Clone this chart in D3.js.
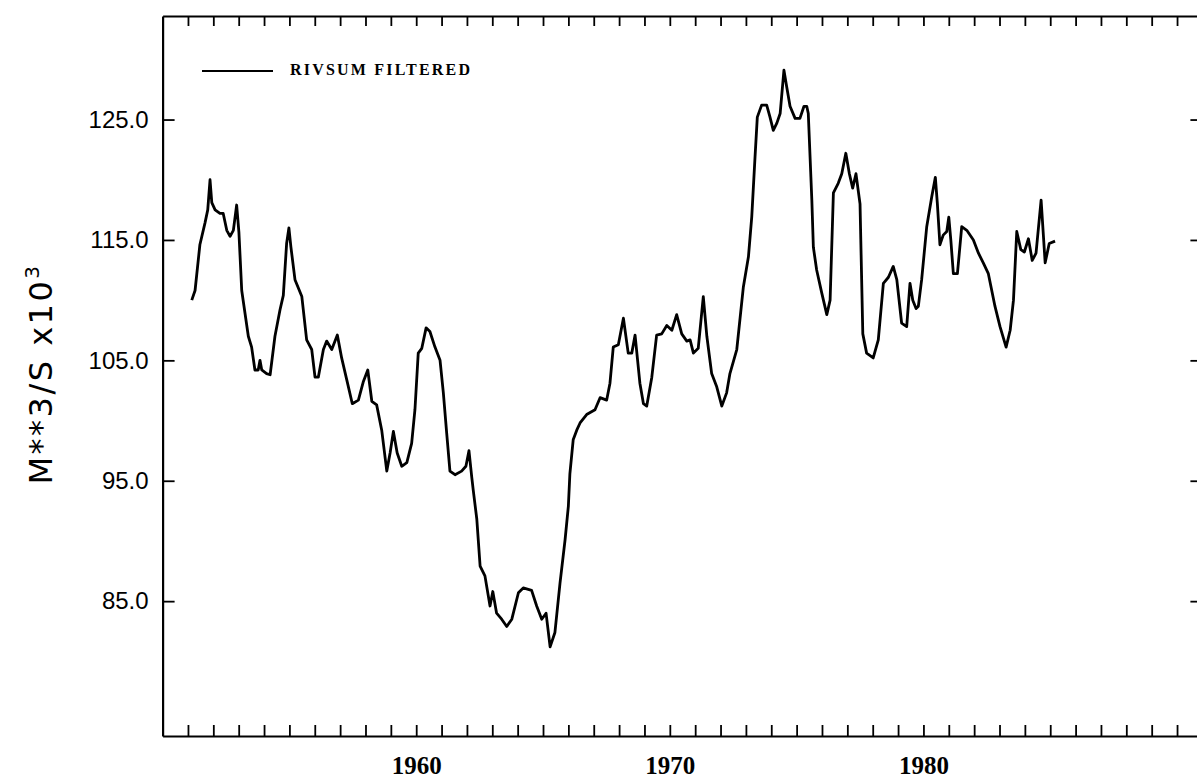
<!DOCTYPE html>
<html>
<head>
<meta charset="utf-8">
<script src="https://cdn.jsdelivr.net/npm/d3@7"></script>
<style>
  body { margin: 0; background: #fff; }
  svg { display: block; }
</style>
</head>
<body>
<script>
var w = 1197;
var h = 781;

// filtered river sum (year, 10^3 m3/s)
var years = [
  1951.15, 1951.28, 1951.47, 1951.67, 1951.78, 1951.87, 1951.94, 1952.07, 1952.26, 1952.39,
  1952.53, 1952.66, 1952.79, 1952.92, 1953.01, 1953.12, 1953.38, 1953.51, 1953.64, 1953.77,
  1953.84, 1953.91, 1954.10, 1954.24, 1954.43, 1954.63, 1954.76, 1954.89, 1954.98, 1955.06,
  1955.22, 1955.49, 1955.68, 1955.88, 1956.01, 1956.14, 1956.34, 1956.47, 1956.67, 1956.89,
  1957.06, 1957.26, 1957.48, 1957.72, 1957.91, 1958.09, 1958.25, 1958.44, 1958.64, 1958.84,
  1958.97, 1959.10, 1959.25, 1959.43, 1959.63, 1959.82, 1959.95, 1960.08, 1960.22, 1960.39,
  1960.54, 1960.74, 1960.94, 1961.07, 1961.20, 1961.33, 1961.53, 1961.79, 1961.96, 1962.08,
  1962.19, 1962.25, 1962.39, 1962.52, 1962.71, 1962.91, 1963.02, 1963.17, 1963.37, 1963.57,
  1963.77, 1964.03, 1964.22, 1964.55, 1964.75, 1964.95, 1965.12, 1965.28, 1965.47, 1965.67,
  1965.87, 1966.00, 1966.06, 1966.19, 1966.33, 1966.46, 1966.72, 1967.05, 1967.25, 1967.51,
  1967.64, 1967.77, 1967.97, 1968.17, 1968.36, 1968.50, 1968.63, 1968.82, 1968.96, 1969.09,
  1969.29, 1969.48, 1969.68, 1969.88, 1970.08, 1970.27, 1970.47, 1970.67, 1970.80, 1970.93,
  1971.12, 1971.32, 1971.46, 1971.65, 1971.85, 1972.05, 1972.24, 1972.37, 1972.64, 1972.90,
  1973.10, 1973.23, 1973.36, 1973.45, 1973.62, 1973.82, 1973.95, 1974.08, 1974.22, 1974.35,
  1974.50, 1974.61, 1974.74, 1974.94, 1975.13, 1975.29, 1975.40, 1975.46, 1975.60, 1975.66,
  1975.79, 1975.99, 1976.19, 1976.32, 1976.45, 1976.64, 1976.78, 1976.94, 1977.08, 1977.21,
  1977.34, 1977.50, 1977.61, 1977.76, 1978.02, 1978.22, 1978.42, 1978.62, 1978.81, 1978.95,
  1979.14, 1979.34, 1979.47, 1979.58, 1979.71, 1979.80, 1979.93, 1980.13, 1980.33, 1980.47,
  1980.55, 1980.65, 1980.78, 1980.92, 1981.00, 1981.08, 1981.18, 1981.34, 1981.51, 1981.71,
  1981.97, 1982.17, 1982.36, 1982.56, 1982.82, 1983.02, 1983.26, 1983.42, 1983.55, 1983.68,
  1983.84, 1983.98, 1984.14, 1984.29, 1984.44, 1984.64, 1984.80, 1984.96, 1985.19
];
var flow = [
  110.0, 110.8, 114.6, 116.4, 117.5, 120.0, 118.1, 117.5, 117.2, 117.2,
  115.8, 115.3, 115.8, 117.9, 115.6, 110.8, 107.0, 106.1, 104.2, 104.2,
  105.0, 104.2, 103.9, 103.8, 107.0, 109.2, 110.4, 114.7, 116.0, 114.4,
  111.7, 110.3, 106.7, 105.9, 103.6, 103.6, 105.9, 106.6, 105.9, 107.1,
  105.2, 103.4, 101.4, 101.7, 103.2, 104.2, 101.6, 101.3, 99.2, 95.8,
  97.3, 99.1, 97.3, 96.2, 96.5, 98.1, 100.9, 105.6, 106.0, 107.7,
  107.4, 106.1, 105.0, 102.3, 99.0, 95.8, 95.5, 95.8, 96.2, 97.5,
  95.3, 94.2, 91.8, 87.9, 87.1, 84.6, 85.8, 84.0, 83.5, 82.9,
  83.5, 85.7, 86.1, 85.9, 84.6, 83.5, 84.0, 81.2, 82.4, 86.5,
  90.1, 92.9, 95.6, 98.4, 99.2, 99.8, 100.5, 100.9, 101.9, 101.7,
  103.1, 106.1, 106.3, 108.5, 105.6, 105.6, 107.1, 103.1, 101.4, 101.2,
  103.6, 107.1, 107.2, 107.9, 107.5, 108.8, 107.2, 106.6, 106.7, 105.6,
  106.0, 110.3, 107.0, 103.9, 102.8, 101.2, 102.3, 103.9, 105.9, 111.1,
  113.6, 116.9, 121.9, 125.2, 126.2, 126.2, 125.2, 124.1, 124.7, 125.5,
  129.1, 127.7, 126.1, 125.1, 125.1, 126.1, 126.1, 125.5, 118.3, 114.4,
  112.5, 110.6, 108.8, 110.0, 118.9, 119.7, 120.5, 122.2, 120.5, 119.3,
  120.5, 118.0, 107.2, 105.6, 105.2, 106.7, 111.4, 111.9, 112.8, 111.7,
  108.1, 107.8, 111.4, 110.0, 109.3, 109.5, 111.7, 116.1, 118.6, 120.2,
  118.0, 114.6, 115.4, 115.7, 116.9, 115.0, 112.2, 112.2, 116.1, 115.8,
  115.0, 113.9, 113.1, 112.2, 109.5, 107.8, 106.1, 107.5, 110.0, 115.7,
  114.2, 114.0, 115.1, 113.3, 113.9, 118.3, 113.1, 114.7, 114.9
];

var yTicks = [85, 95, 105, 115, 125];
var xLabelYears = [1960, 1970, 1980];
var yearTicks = d3.range(1951, 1991);
var legendLabel = "RIVSUM FILTERED";

var data = years.map(function(d, i) { return [d, flow[i]]; });

// plot frame
var plotLeft = 162.6, plotRight = 1202.4, plotTop = 16, plotBottom = 736;

var xScale = d3.scaleLinear()
  .domain([1950, 1991])
  .range([plotLeft, plotRight]);

var yScale = d3.scaleLinear()
  .domain([73.8, 133.6])
  .range([plotBottom, plotTop]);

var svg = d3.select("body")
  .append("svg")
  .attr("width", w)
  .attr("height", h);

function styleAxis(g) {
  g.select(".domain").attr("stroke", "#000").attr("stroke-width", 2.2);
  g.selectAll(".tick line").attr("stroke", "#000").attr("stroke-width", 1.8);
}

// bottom: yearly ticks pointing in
svg.append("g")
  .attr("transform", "translate(0," + plotBottom + ")")
  .call(d3.axisBottom(xScale).tickValues(yearTicks).tickSize(-11).tickSizeOuter(0).tickFormat(""))
  .call(styleAxis);

// bottom labels
svg.append("g")
  .attr("transform", "translate(0," + plotBottom + ")")
  .call(d3.axisBottom(xScale).tickValues(xLabelYears).tickSize(0).tickPadding(20).tickFormat(d3.format("d")))
  .call(function(g) {
    g.select(".domain").remove();
    g.selectAll("text")
      .attr("font-family", "'Liberation Serif', serif")
      .attr("font-weight", "bold")
      .attr("font-size", 25)
      .attr("fill", "#000");
  });

// top
svg.append("g")
  .attr("transform", "translate(0," + plotTop + ")")
  .call(d3.axisTop(xScale).tickValues(yearTicks).tickSize(-10).tickSizeOuter(0).tickFormat(""))
  .call(styleAxis);

// left
svg.append("g")
  .attr("transform", "translate(" + plotLeft + ",0)")
  .call(d3.axisLeft(yScale).tickValues(yTicks).tickSize(-12).tickSizeOuter(0).tickPadding(14)
    .tickFormat(d3.format(".1f")))
  .call(styleAxis)
  .call(function(g) {
    g.selectAll("text")
      .attr("font-family", "'Liberation Sans', sans-serif")
      .attr("font-size", 24)
      .attr("fill", "#000");
  });

// right
svg.append("g")
  .attr("transform", "translate(" + plotRight + ",0)")
  .call(d3.axisRight(yScale).tickValues(yTicks).tickSize(-12).tickSizeOuter(0).tickFormat(""))
  .call(styleAxis);

// y label
var ylab = svg.append("text")
  .attr("transform", "rotate(-90)")
  .attr("x", -374)
  .attr("y", 52)
  .attr("text-anchor", "middle")
  .attr("font-family", "'DejaVu Sans', sans-serif")
  .attr("font-size", 32)
  .attr("letter-spacing", 2.5)
  .attr("fill", "#000");
ylab.append("tspan").text("M**3/S x10");
ylab.append("tspan").attr("dy", -13).attr("font-size", 20).text("3");

// the series
var line = d3.line()
  .x(function(d) { return xScale(d[0]); })
  .y(function(d) { return yScale(d[1]); });

svg.append("path")
  .datum(data)
  .attr("d", line)
  .attr("fill", "none")
  .attr("stroke", "#000")
  .attr("stroke-width", 2.8)
  .attr("stroke-linejoin", "round");

// legend
svg.append("line")
  .attr("x1", 202).attr("x2", 273)
  .attr("y1", 71).attr("y2", 71)
  .attr("stroke", "#000")
  .attr("stroke-width", 2);

svg.append("text")
  .attr("x", 290)
  .attr("y", 75)
  .attr("font-family", "'Liberation Serif', serif")
  .attr("font-weight", "bold")
  .attr("font-size", 16)
  .attr("letter-spacing", 2.2)
  .attr("fill", "#000")
  .text(legendLabel);
</script>
</body>
</html>
